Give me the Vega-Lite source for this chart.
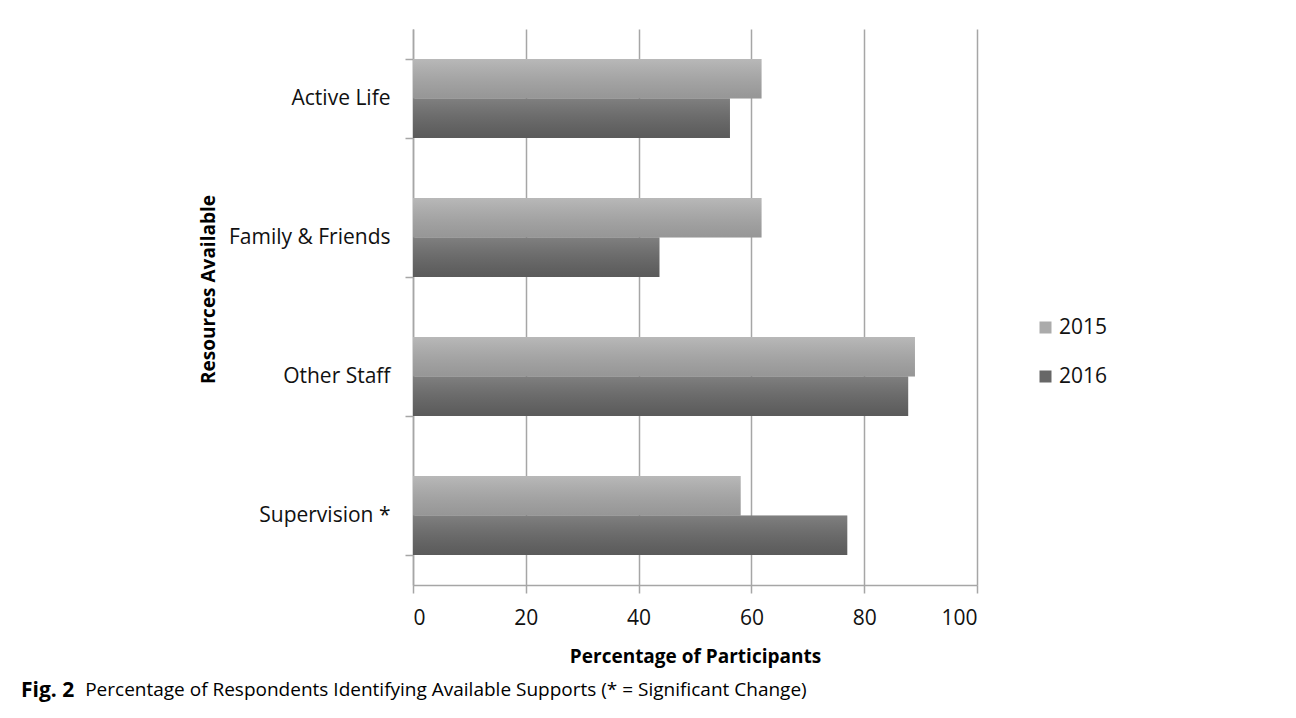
{
  "$schema": "https://vega.github.io/schema/vega-lite/v6.json",
  "width": 564,
  "height": 556,
  "autosize": {"type": "none"},
  "padding": {"left": 413, "top": 29, "right": 319, "bottom": 133},
  "background": "white",
  "config": {
    "view": {"stroke": null},
    "font": "Open Sans",
    "axis": {"labelColor": "#111111", "titleColor": "#000000"},
    "legend": {"labelColor": "#111111"}
  },
  "title": {
    "text": "Fig. 2",
    "subtitle": "\u200b\u00a0\u00a0\u00a0\u00a0\u00a0\u00a0\u00a0\u00a0\u00a0\u00a0\u00a0\u00a0\u00a0Percentage of Respondents Identifying Available Supports (* = Significant Change)",
    "orient": "bottom",
    "anchor": "start",
    "frame": "group",
    "dx": -392,
    "offset": 14,
    "font": "Open Sans",
    "fontSize": 21,
    "fontWeight": "bold",
    "color": "#000000",
    "subtitleFont": "Open Sans",
    "subtitleFontSize": 19,
    "subtitleFontWeight": "normal",
    "subtitleColor": "#000000",
    "subtitlePadding": -20
  },
  "data": {
    "values": [
      {"resource": "Active Life", "year": "2015", "pct": 61.8},
      {"resource": "Active Life", "year": "2016", "pct": 56.2},
      {"resource": "Family & Friends", "year": "2015", "pct": 61.8},
      {"resource": "Family & Friends", "year": "2016", "pct": 43.7},
      {"resource": "Other Staff", "year": "2015", "pct": 89.0},
      {"resource": "Other Staff", "year": "2016", "pct": 87.8},
      {"resource": "Supervision *", "year": "2015", "pct": 58.1},
      {"resource": "Supervision *", "year": "2016", "pct": 77.0}
    ]
  },
  "encoding": {
    "y": {
      "field": "resource",
      "type": "nominal",
      "sort": ["Active Life", "Family & Friends", "Other Staff", "Supervision *"],
      "scale": {"paddingInner": 0.43, "paddingOuter": 0.215},
      "axis": {
        "title": "Resources Available",
        "titleFontSize": 19,
        "titleFontWeight": "bold",
        "titleAngle": -90,
        "titleAlign": "center",
        "titleBaseline": "alphabetic",
        "titleX": -199,
        "titleY": 260,
        "labelFontSize": 21,
        "labelPadding": 15,
        "tickBand": "extent",
        "tickSize": 8,
        "tickWidth": 1.5,
        "tickColor": "#a6a6a6",
        "domainColor": "#a6a6a6",
        "domainWidth": 1.5,
        "grid": false
      }
    },
    "x": {
      "field": "pct",
      "type": "quantitative",
      "scale": {"domain": [0, 100], "nice": false},
      "axis": {
        "title": "Percentage of Participants",
        "titleFontSize": 19,
        "titleFontWeight": "bold",
        "titleBaseline": "alphabetic",
        "titleY": 77,
        "values": [0, 20, 40, 60, 80, 100],
        "labelFontSize": 21,
        "labelPadding": 14,
        "tickSize": 8,
        "tickWidth": 1.5,
        "tickColor": "#a6a6a6",
        "domainColor": "#a6a6a6",
        "domainWidth": 1.5,
        "grid": true,
        "gridColor": "#a6a6a6",
        "gridWidth": 1.5
      }
    },
    "yOffset": {"field": "year", "type": "nominal", "sort": ["2015", "2016"]}
  },
  "layer": [
    {
      "mark": {"type": "bar"},
      "encoding": {
        "color": {
          "field": "year",
          "type": "nominal",
          "scale": {"domain": ["2015", "2016"], "range": ["#ababab", "#676767"]},
          "legend": {
            "title": null,
            "orient": "none",
            "legendX": 622,
            "legendY": 288,
            "symbolType": "square",
            "symbolSize": 144,
            "symbolStrokeWidth": 0,
            "labelFontSize": 21,
            "labelOffset": 3,
            "rowPadding": 27
          }
        }
      }
    },
    {
      "mark": {
        "type": "bar",
        "fill": {
          "gradient": "linear",
          "x1": 0, "y1": 0, "x2": 0, "y2": 1,
          "stops": [
            {"offset": 0, "color": "rgba(255,255,255,0.16)"},
            {"offset": 1, "color": "rgba(0,0,0,0.12)"}
          ]
        }
      }
    }
  ]
}
